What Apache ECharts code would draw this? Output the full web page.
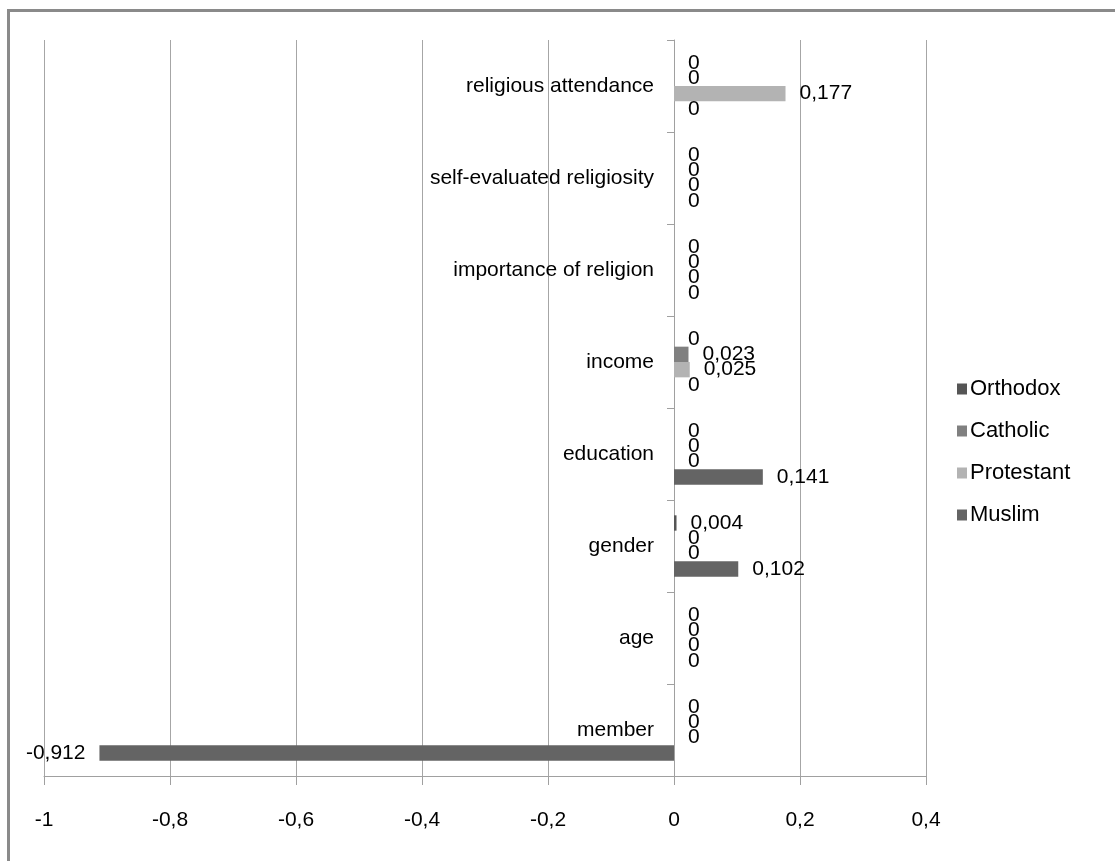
<!DOCTYPE html>
<html>
<head>
<meta charset="utf-8">
<title>Religion effects by denomination</title>
<script src="https://cdn.jsdelivr.net/npm/echarts@6/dist/echarts.min.js"></script>
<style>
  html, body { margin: 0; padding: 0; background: #ffffff; }
  #chart { width: 1115px; height: 861px; }
</style>
</head>
<body>
<div id="chart"></div>
<script>
// Categories listed bottom to top (category axis starts at the bottom)
const categories = [
  'member',
  'age',
  'gender',
  'education',
  'income',
  'importance of religion',
  'self-evaluated religiosity',
  'religious attendance'
];

const seriesNames = ['Orthodox', 'Catholic', 'Protestant', 'Muslim'];

const orthodox   = [0, 0, 0.004, 0, 0, 0, 0, 0];
const catholic   = [0, 0, 0, 0, 0.023, 0, 0, 0];
const protestant = [0, 0, 0, 0, 0.025, 0, 0, 0.177];
const muslim     = [-0.912, 0, 0.102, 0.141, 0, 0, 0, 0];

const xTicks = { min: -1, max: 0.4, step: 0.2 };

const colors = ['#555555', '#808080', '#b3b3b3', '#646464'];
const values = [orthodox, catholic, protestant, muslim];

const FONT = '"Liberation Sans", Arial, sans-serif';
const comma = v => String(v).replace('.', ',');

const W = 1115, H = 861;
const gridBox = { left: 44, right: 189, top: 40, bottom: 85 };
// The category axis sits on the zero line of the value axis
const plotWidth = W - gridBox.left - gridBox.right;
const zeroShift = (0 - xTicks.min) / (xTicks.max - xTicks.min) * plotWidth;

const chart = echarts.init(document.getElementById('chart'), null, { renderer: 'canvas' });

const series = seriesNames.map((name, i) => ({
  name: name,
  type: 'bar',
  barGap: '0%',
  barCategoryGap: '33.3%',
  itemStyle: { color: colors[i] },
  label: {
    show: true,
    distance: 14,
    color: '#000',
    fontFamily: FONT,
    fontSize: 21,
    formatter: p => comma(p.value)
  },
  data: values[i].map(v => ({
    value: v,
    label: { position: v < 0 ? 'left' : 'right' }
  }))
}));

chart.setOption({
  animation: false,
  backgroundColor: '#ffffff',
  textStyle: { fontFamily: FONT },
  graphic: [{
    type: 'rect',
    shape: { x: 8.5, y: 10.5, width: 1300, height: 1000 },
    style: { fill: null, stroke: '#8a8a8a', lineWidth: 3 },
    silent: true
  }],
  grid: {
    left: gridBox.left, right: gridBox.right, top: gridBox.top, bottom: gridBox.bottom,
    containLabel: false,
    outerBoundsMode: 'none'
  },
  legend: {
    orient: 'vertical',
    left: 952,
    top: 373,
    itemWidth: 10,
    itemHeight: 11,
    itemGap: 20,
    icon: 'rect',
    data: seriesNames,
    textStyle: { fontFamily: FONT, fontSize: 22, color: '#000', padding: [0, 0, 0, -2] }
  },
  xAxis: {
    type: 'value',
    min: xTicks.min,
    max: xTicks.max,
    interval: xTicks.step,
    axisLine: { show: true, onZero: false, lineStyle: { color: '#a0a0a0', width: 1 } },
    axisTick: { show: true, length: 9, lineStyle: { color: '#a0a0a0' } },
    axisLabel: {
      margin: 34,
      color: '#000',
      fontFamily: FONT,
      fontSize: 21,
      formatter: v => comma(Math.round(v * 10) / 10)
    },
    splitLine: { show: true, lineStyle: { color: '#a6a6a6', width: 1 } }
  },
  yAxis: {
    type: 'category',
    data: categories,
    position: 'left',
    offset: -zeroShift,
    axisLine: { show: true, onZero: false, lineStyle: { color: '#a0a0a0', width: 1 } },
    axisTick: { show: true, length: 7, alignWithLabel: false, lineStyle: { color: '#a0a0a0' } },
    axisLabel: {
      margin: 20,
      color: '#000',
      fontFamily: FONT,
      fontSize: 21
    },
    splitLine: { show: false }
  },
  series: series
});
</script>
</body>
</html>
